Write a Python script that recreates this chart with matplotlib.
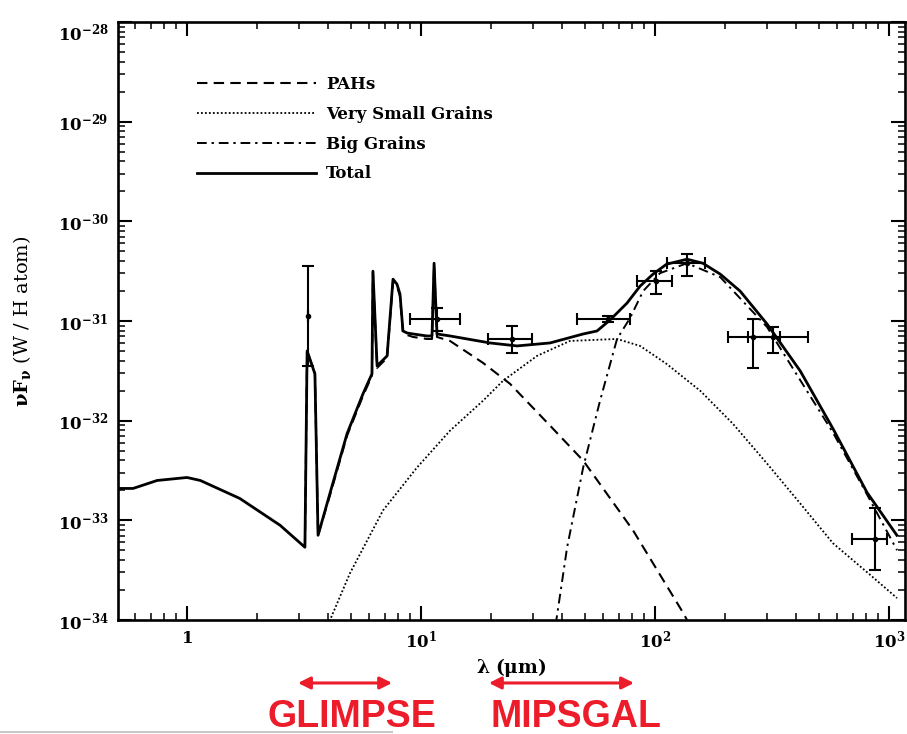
import numpy as np
import matplotlib
matplotlib.use("Agg")
import matplotlib.pyplot as plt
from matplotlib.ticker import LogLocator, FuncFormatter, NullFormatter
from matplotlib.lines import Line2D

plt.rcParams['font.family'] = 'DejaVu Serif'
plt.rcParams['font.weight'] = 'bold'
plt.rcParams['mathtext.fontset'] = 'dejavuserif'

# --- curves (wavelength in micron, log10 of nuFnu) ---
lam_total = [0.507, 0.588, 0.745, 1.0, 1.14, 1.68, 2.50, 3.19, 3.26, 3.52, 3.63,
             4.08, 4.83, 5.65, 6.17, 6.23, 6.49, 7.16, 7.59, 7.89, 8.13, 8.37,
             8.71, 9.24, 10.6, 11.14, 11.37, 11.7, 13.3, 19.7, 25.7, 35.6, 49.3,
             56.5, 64.2, 75.9, 86.3, 98.0, 112, 137, 160, 190, 231, 301, 417,
             576, 805, 1080]
log_total = [-32.68, -32.68, -32.60, -32.57, -32.60, -32.78, -33.05, -33.27, -31.30,
             -31.53, -33.15, -32.73, -32.13, -31.73, -31.53, -30.50, -31.45, -31.35,
             -30.58, -30.63, -30.73, -31.10, -31.12, -31.13, -31.15, -31.15, -30.42,
             -31.13, -31.15, -31.22, -31.25, -31.22, -31.13, -31.10, -30.99, -30.82,
             -30.65, -30.53, -30.43, -30.38, -30.42, -30.53, -30.70, -31.03, -31.50,
             -32.08, -32.72, -33.15]

lam_pah = [3.19, 3.26, 3.52, 3.63, 4.08, 4.83, 5.65, 6.17, 6.23, 6.49, 7.16, 7.59,
           7.89, 8.13, 8.37, 8.71, 9.24, 10.6, 11.14, 11.37, 11.7, 13.3, 18.4, 24.0,
           35.6, 49.3, 80.5, 132, 137]
log_pah = [-33.27, -31.30, -31.53, -33.15, -32.75, -32.15, -31.75, -31.55, -30.51,
           -31.47, -31.37, -30.60, -30.65, -30.75, -31.12, -31.14, -31.16, -31.18,
           -31.18, -30.44, -31.16, -31.20, -31.42, -31.63, -32.05, -32.40, -33.10,
           -33.93, -34.0]

lam_vsg = [4.0, 4.97, 6.88, 9.61, 13.3, 18.4, 22.4, 31.3, 43.3, 68.8, 86.3, 112,
           156, 215, 301, 417, 576, 805, 1082]
log_vsg = [-34.05, -33.53, -32.90, -32.47, -32.10, -31.80, -31.60, -31.35, -31.20,
           -31.18, -31.25, -31.43, -31.70, -32.03, -32.43, -32.83, -33.23, -33.52,
           -33.78]

lam_bg = [37.6, 42.1, 49.3, 58.2, 68.8, 78.2, 88.9, 105, 137, 190, 301, 576, 805, 1082]
log_bg = [-34.05, -33.27, -32.47, -31.80, -31.18, -30.97, -30.70, -30.52, -30.42,
          -30.56, -31.06, -32.12, -32.74, -33.30]

# --- observed points with error ranges ---
pt_lam = [3.29, 11.7, 24.5, 63.0, 101, 137, 262, 319, 871]
pt_log = [-30.95, -30.98, -31.18, -30.98, -30.60, -30.42, -31.16, -31.16, -33.19]
pt_lam_lo = [3.29, 8.97, 19.3, 46.4, 83.8, 112, 205, 250, 695]
pt_lam_hi = [3.29, 14.7, 29.8, 78.2, 118, 164, 342, 451, 980]
pt_log_lo = [-31.45, -31.10, -31.32, -31.01, -30.73, -30.55, -31.47, -31.32, -33.50]
pt_log_hi = [-30.45, -30.87, -31.05, -30.95, -30.50, -30.33, -30.98, -31.06, -32.88]

# survey bands marked under the axis
band_names = ['GLIMPSE', 'MIPSGAL']
band_lo = [2.98, 19.5]
band_hi = [7.52, 81.3]
band_text_lam = [5.05, 46.0]

red = '#ec1c2a'

fig = plt.figure(figsize=(9.07, 7.34), dpi=100)
ax = fig.add_axes([0.1301, 0.1553, 0.8677, 0.8147])

ax.plot(lam_pah, 10 ** np.array(log_pah), color='black', lw=1.5,
        linestyle=(0, (5, 3)), label='PAHs')
ax.plot(lam_vsg, 10 ** np.array(log_vsg), color='black', lw=1.3,
        linestyle=(0, (1, 1.2)), label='Very Small Grains')
ax.plot(lam_bg, 10 ** np.array(log_bg), color='black', lw=1.4,
        linestyle=(0, (5, 2.5, 1.2, 2.5)), label='Big Grains')
ax.plot(lam_total, 10 ** np.array(log_total), color='black', lw=2.0, label='Total')

y = 10 ** np.array(pt_log)
ylo = y - 10 ** np.array(pt_log_lo)
yhi = 10 ** np.array(pt_log_hi) - y
x = np.array(pt_lam)
xlo = x - np.array(pt_lam_lo)
xhi = np.array(pt_lam_hi) - x
ax.errorbar(x, y, xerr=[xlo, xhi], yerr=[ylo, yhi], fmt='o', ms=3, color='black',
            elinewidth=1.5, capsize=4, capthick=1.5)

ax.set_xscale('log')
ax.set_yscale('log')
ax.set_xlim(0.507, 1170)
ax.set_ylim(1e-34, 1e-28)


def fmt_pow(v, pos):
    e = int(round(np.log10(v)))
    if e == 0:
        return r'$\mathbf{1}$'
    return r'$\mathbf{10^{%d}}$' % e


for a in (ax.xaxis, ax.yaxis):
    a.set_major_locator(LogLocator(base=10, numticks=20))
    a.set_minor_locator(LogLocator(base=10, subs=np.arange(2, 10), numticks=20))
    a.set_major_formatter(FuncFormatter(fmt_pow))
    a.set_minor_formatter(NullFormatter())

ax.tick_params(which='both', direction='in', top=True, right=True, color='black')
ax.tick_params(which='major', length=10, width=1.5, labelsize=12, pad=7)
ax.tick_params(which='minor', length=5, width=1.1)
for s in ax.spines.values():
    s.set_linewidth(1.9)

ax.set_xlabel(r'$\mathbf{\lambda}$ $\mathbf{(\mu m)}$', fontsize=13.5, labelpad=3)
ax.set_ylabel(r'$\mathbf{\nu F_\nu}$ (W / H atom)', fontsize=14, labelpad=18)

leg = ax.legend(loc='upper left', bbox_to_anchor=(0.100, 0.910), frameon=False,
                fontsize=12, handlelength=7.15, handletextpad=0.6,
                labelspacing=0.77, borderpad=0, borderaxespad=0)

for name, lo, hi, tl in zip(band_names, band_lo, band_hi, band_text_lam):
    ax.annotate('', xy=(lo, 0.0695), xytext=(hi, 0.0695),
                xycoords=('data', 'figure fraction'),
                textcoords=('data', 'figure fraction'),
                arrowprops=dict(arrowstyle='<|-|>', color=red, lw=2.2,
                                mutation_scale=18, shrinkA=0, shrinkB=0),
                annotation_clip=False)
    ax.annotate(name, xy=(tl, 0.009), xycoords=('data', 'figure fraction'),
                ha='center', va='baseline', color=red, fontsize=27,
                fontweight='bold', family='Liberation Sans', annotation_clip=False)

fig.add_artist(Line2D([0, 0.432], [0.003, 0.003], color='#c8c8c8', lw=1.5))

# keep the top y label inside the picture
fig.canvas.draw()
for t in ax.yaxis.get_major_ticks():
    if np.isclose(np.log10(t.get_loc()), -28):
        t.label1.set_verticalalignment('top')

fig.savefig('out.png', dpi=100, facecolor='white')
